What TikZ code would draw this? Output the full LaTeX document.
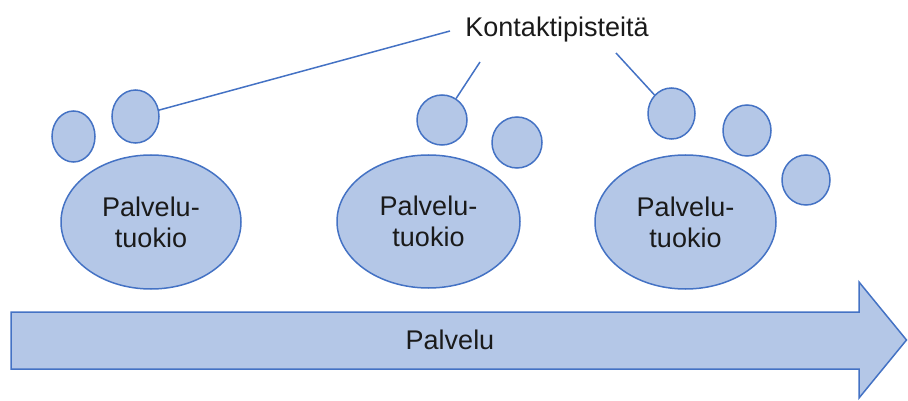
\documentclass[tikz,border=0pt]{standalone}
\usepackage{fontspec}
\setmainfont{Liberation Sans}
\usetikzlibrary{shapes.geometric}
\definecolor{bfill}{HTML}{B4C7E7}
\definecolor{bline}{HTML}{4472C4}
\definecolor{txt}{HTML}{1A1A1A}
\begin{document}
\begin{tikzpicture}[x=1pt,y=-1pt,
  blob/.style={ellipse,draw=bline,fill=bfill,line width=1.5pt,inner sep=0pt},
  pad/.style={blob,minimum width=#1},
  lbl/.style={text=txt,font=\fontsize{27}{31}\selectfont,align=center},
  conn/.style={draw=bline,line width=1.5pt}]
\useasboundingbox (0,0) rectangle (908,401);
% arrow
\filldraw[bline,fill=bfill,line width=1.5pt,line join=miter]
  (11,312) -- (859,312) -- (859,282) -- (906.5,340) -- (859,398) -- (859,369) -- (11,369) -- cycle;
\node[lbl,anchor=base] (palvelu) at (450,349) {Palvelu};
% moments
\node[blob,minimum width=180pt,minimum height=134pt,lbl] (e1) at (151,222) {Palvelu-\\tuokio};
\node[blob,minimum width=183pt,minimum height=133pt,lbl] (e2) at (428.5,221.5) {Palvelu-\\tuokio};
\node[blob,minimum width=181pt,minimum height=134pt,lbl] (e3) at (685.5,222) {Palvelu-\\tuokio};
% toes
\node[blob,minimum width=43pt,minimum height=51pt] (c1a) at (73.5,136.5) {};
\node[blob,minimum width=47pt,minimum height=53pt] (c1b) at (135.5,116.5) {};
\node[blob,minimum width=50pt,minimum height=50pt] (c2a) at (442,120) {};
\node[blob,minimum width=50pt,minimum height=51pt] (c2b) at (517,142.5) {};
\node[blob,minimum width=47pt,minimum height=51pt] (c3a) at (671.5,113.5) {};
\node[blob,minimum width=48pt,minimum height=51pt] (c3b) at (747,130.5) {};
\node[blob,minimum width=48pt,minimum height=50pt] (c3c) at (806,180) {};
% label and connectors
\node[lbl,anchor=base] (kp) at (557,37) {Kontaktipisteitä};
\coordinate (k1) at (450,31);
\coordinate (k2) at (480,62);
\coordinate (k3) at (616,53);
\draw[conn] (c1b) -- (k1);
\draw[conn] (c2a) -- (k2);
\draw[conn] (c3a) -- (k3);
\end{tikzpicture}
\end{document}
